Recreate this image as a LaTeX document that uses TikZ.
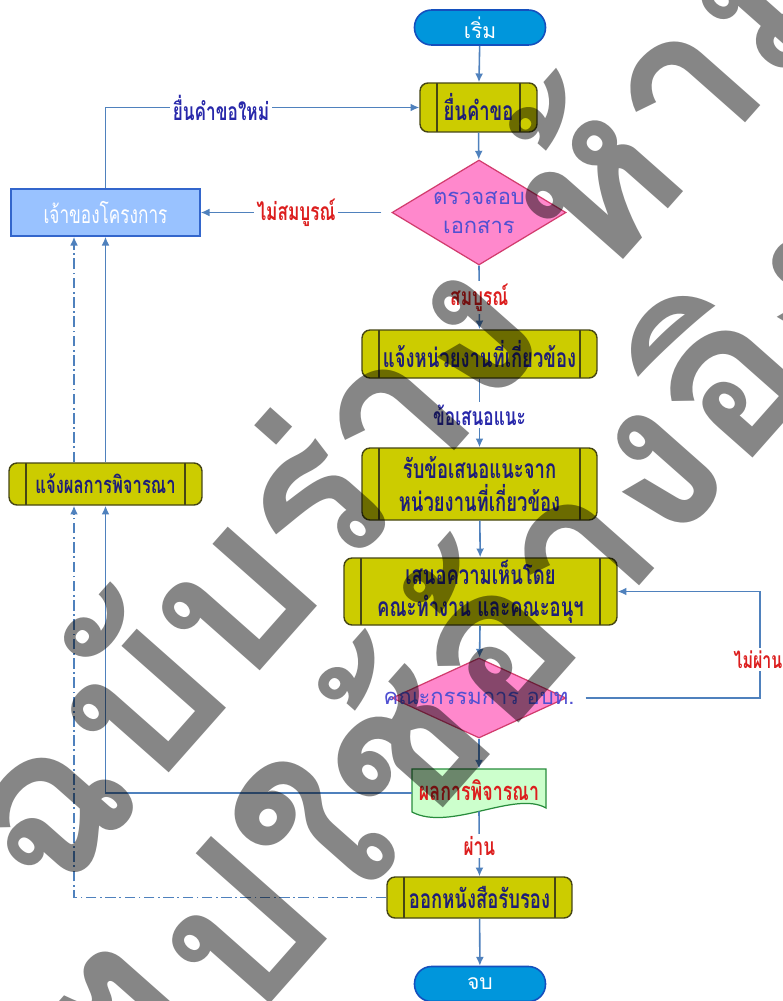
\documentclass[tikz,border=0pt]{standalone}
\usepackage{fontspec}
\usetikzlibrary{arrows.meta,shapes.geometric,calc}
\newfontfamily\thaif[Script=Thai]{Loma}
\newfontfamily\thaic[Script=Thai,FakeStretch=0.7]{Loma}
\definecolor{lineblue}{RGB}{79,129,189}
\definecolor{boxyellow}{RGB}{204,204,0}
\definecolor{boxedge}{RGB}{70,70,20}
\definecolor{navy}{RGB}{30,30,120}
\definecolor{pinkfill}{RGB}{255,136,204}
\definecolor{pinkedge}{RGB}{210,60,110}
\definecolor{diatext}{RGB}{80,80,210}
\definecolor{ownerfill}{RGB}{153,194,255}
\definecolor{owneredge}{RGB}{51,102,204}
\definecolor{pillfill}{RGB}{0,150,220}
\definecolor{pilledge}{RGB}{20,80,190}
\definecolor{docfill}{RGB}{204,255,204}
\definecolor{docedge}{RGB}{40,140,60}
\definecolor{lblred}{RGB}{220,30,30}
\definecolor{lblblue}{RGB}{40,40,170}
\definecolor{wmgray}{RGB}{134,134,134}
\tikzset{
  conn/.style={draw=lineblue, line width=0.9pt, -{Latex[length=5pt,width=4.5pt]}},
  dashdot/.style={dash pattern=on 6pt off 2pt on 1pt off 2pt},
  procbox/.style={rectangle, rounded corners=0.16cm, draw=boxedge, fill=boxyellow,
    line width=0.8pt, text=navy, align=center, inner sep=0pt,
    font=\thaic\bfseries\fontsize{15}{18.5}\selectfont,
    path picture={\draw[boxedge, line width=0.7pt]
      ([xshift=0.34cm]path picture bounding box.north west) -- ([xshift=0.34cm]path picture bounding box.south west)
      ([xshift=-0.34cm]path picture bounding box.north east) -- ([xshift=-0.34cm]path picture bounding box.south east);}},
  pill/.style={rectangle, rounded corners=0.34cm, draw=pilledge, fill=pillfill, line width=0.9pt,
    minimum width=2.62cm, minimum height=0.7cm, inner sep=0pt, text=white,
    font=\thaif\fontsize{12}{14}\selectfont},
  decision/.style={diamond, draw=pinkedge, fill=pinkfill, line width=0.7pt, inner sep=0pt},
  diatxt/.style={text=diatext, align=center, inner sep=0pt, font=\thaif\fontsize{12.5}{16.5}\selectfont},
  lbl/.style={fill=white, inner sep=1.5pt, font=\thaic\bfseries\fontsize{14}{16}\selectfont},
  wm/.style={text=wmgray, inner sep=0pt, anchor=base west, rotate=48.5, blend mode=multiply,
    font=\thaif\bfseries\fontsize{122}{140}\selectfont},
}
\begin{document}
\begin{tikzpicture}[x=0.02cm, y=-0.02cm]
\fill[white] (0,0) rectangle (782,1001);
\useasboundingbox (0,0) rectangle (782,1001);

% main column
\node[pill] (start) at (480,27.5) {เริ่ม};
\node[procbox, minimum width=2.34cm, minimum height=0.98cm] (req) at (478.5,107.5) {ยื่นคำขอ};
\node[decision, minimum width=3.48cm, minimum height=2.1cm] (check) at (479,212.5) {};
\node[diatxt] (checktxt) at (check.center) {ตรวจสอบ\\เอกสาร};
\node[procbox, minimum width=4.7cm, minimum height=0.96cm] (notify) at (479.5,354) {แจ้งหน่วยงานที่เกี่ยวข้อง};
\node[procbox, minimum width=4.7cm, minimum height=1.44cm] (recv) at (479.5,484) {รับข้อเสนอแนะจาก\\หน่วยงานที่เกี่ยวข้อง};
\node[procbox, minimum width=5.46cm, minimum height=1.34cm] (opinion) at (480.5,591.5) {เสนอความเห็นโดย\\คณะทำงาน และคณะอนุฯ};
\node[decision, minimum width=3.48cm, minimum height=1.6cm] (comm) at (479,698) {};
\node[diatxt] (commtxt) at (comm.center) {คณะกรรมการ อบท.};
\filldraw[fill=docfill, draw=docedge, line width=0.7pt]
  (412,769) -- (546,769) -- (546,808) .. controls (515,790) and (450,832) .. (412,812) -- cycle;
\node[minimum width=2.68cm, minimum height=0.84cm, inner sep=0pt, text=lblred,
  font=\thaic\bfseries\fontsize{14.5}{16}\selectfont] (result) at (479,790) {ผลการพิจารณา};
\node[procbox, minimum width=3.7cm, minimum height=0.82cm] (cert) at (479.5,897.5) {ออกหนังสือรับรอง};
\node[pill] (end) at (480,984) {จบ};

% left column
\node[rectangle, draw=owneredge, fill=ownerfill, line width=0.9pt, minimum width=3.78cm,
  minimum height=0.94cm, inner sep=0pt, text=white, font=\thaic\fontsize{14}{16}\selectfont]
  (owner) at (105.5,212.5) {เจ้าของโครงการ};
\node[procbox, minimum width=3.86cm, minimum height=0.84cm,
  font=\thaic\bfseries\fontsize{13.5}{16}\selectfont] (inform) at (105.5,484) {แจ้งผลการพิจารณา};

% connectors
\draw[conn] (start) -- (req);
\draw[conn] (req) -- (check);
\draw[conn, shorten <=0.2cm] (check.west) -- node[lbl, text=lblred] {ไม่สมบูรณ์} (owner.east);
\draw[conn] (check.south) -- node[lbl, text=lblred] {สมบูรณ์} (notify.north);
\draw[conn] (notify.south) -- node[lbl, text=lblblue, pos=0.53] {ข้อเสนอแนะ} (recv.north);
\draw[conn] (recv) -- (opinion);
\draw[conn] (opinion) -- (comm);
\coordinate (rt) at (760,698);
\draw[conn, shorten <=0.38cm] (comm.east) -- (rt) |- node[lbl, text=lblred, pos=0.18, xshift=-0.04cm,
  font=\thaic\bfseries\fontsize{13}{15}\selectfont] {ไม่ผ่าน} (opinion.east);
\draw[conn] (comm.south) -- (result.north);
\draw[conn] (result.south) -- node[lbl, text=lblred, pos=0.53] {ผ่าน} (cert.north);
\draw[conn] (cert) -- (end);
\draw[conn] (owner.north) |- node[lbl, text=lblblue, pos=0.684] {ยื่นคำขอใหม่} (req.west);
\draw[conn] ([yshift=-0.06cm]result.west) -| (inform.south);
\draw[conn] (inform.north) -- (owner.south);
\draw[conn, dashdot] (cert.west) -| ([xshift=-0.63cm]inform.south);
\draw[conn, dashdot] ([xshift=-0.63cm]inform.north) -- ([xshift=-0.63cm]owner.south);

% watermark
\node[wm] (wm1) at (50,908) {ฉบับร่าง ห้ามนำ};
\node[wm] (wm2) at (168,1119) {ไปใช้อ้างอิง};
\end{tikzpicture}
\end{document}
